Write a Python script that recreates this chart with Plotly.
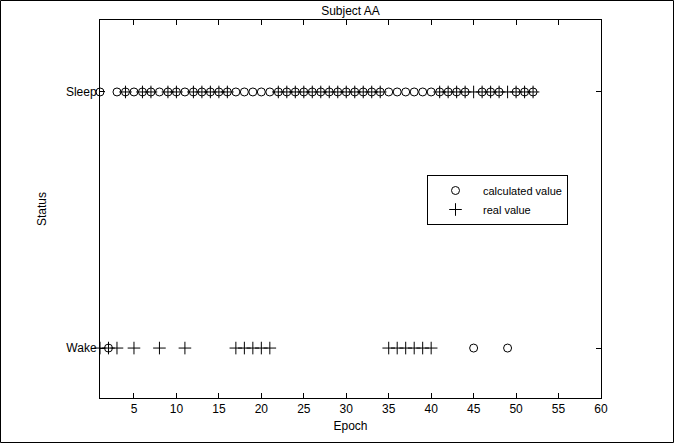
import plotly.graph_objects as go

# ---- data ----
epochs = list(range(1, 53))
# 1 = Sleep, 0 = Wake
calculated = [1, 0, 1, 1, 1, 1, 1, 1, 1, 1,
              1, 1, 1, 1, 1, 1, 1, 1, 1, 1,
              1, 1, 1, 1, 1, 1, 1, 1, 1, 1,
              1, 1, 1, 1, 1, 1, 1, 1, 1, 1,
              1, 1, 1, 1, 0, 1, 1, 1, 0, 1,
              1, 1]
real = [0, 0, 0, 1, 0, 1, 1, 0, 1, 1,
        0, 1, 1, 1, 1, 1, 0, 0, 0, 0,
        0, 1, 1, 1, 1, 1, 1, 1, 1, 1,
        1, 1, 1, 1, 0, 0, 0, 0, 0, 0,
        1, 1, 1, 1, 1, 1, 1, 1, 1, 1,
        1, 1]
status_vals = [0, 1]
status_labels = ["Wake", "Sleep"]
x_ticks = [5, 10, 15, 20, 25, 30, 35, 40, 45, 50, 55, 60]

FONT = "Liberation Sans, Arial, sans-serif"

fig = go.Figure()
fig.add_trace(go.Scatter(
    x=epochs, y=calculated, mode="markers", name="calculated value",
    marker=dict(symbol="circle-open", size=8, color="black",
                line=dict(width=1, color="black")),
    cliponaxis=False,
))
fig.add_trace(go.Scatter(
    x=epochs, y=real, mode="markers", name="real value",
    marker=dict(symbol="cross-thin-open", size=9, color="black",
                line=dict(width=1, color="black")),
    cliponaxis=False,
))

L, R, T, B = 100, 73, 20, 45
W, H = 674, 443
pw, ph = W - L - R, H - T - B

fig.update_layout(
    width=W, height=H,
    margin=dict(l=L, r=R, t=T, b=B, pad=0),
    paper_bgcolor="white", plot_bgcolor="white",
    font=dict(family=FONT, size=12, color="black"),
    title=dict(text="Subject AA", x=(L + pw / 2) / W, xanchor="center",
               y=1 - 11 / H, yanchor="middle", yref="container",
               font=dict(family=FONT, size=12, color="black")),
    showlegend=True,
    legend=dict(
        x=(427 - L) / pw, y=(H - B - 175) / ph, xanchor="left", yanchor="top",
        bgcolor="white", bordercolor="black", borderwidth=1,
        font=dict(family=FONT, size=11, color="black"),
        itemwidth=45, tracegroupgap=0,
    ),
    xaxis=dict(
        range=[1, 60], tickvals=x_ticks, ticks="inside", ticklen=5,
        tickcolor="black", showline=True, linecolor="black", linewidth=1,
        mirror="ticks", showgrid=False, zeroline=False,
        tickfont=dict(family=FONT, size=12, color="black"),
        title=dict(text="Epoch", standoff=6,
                   font=dict(family=FONT, size=12, color="black")),
    ),
    yaxis=dict(
        range=[-0.195, 1.281], tickvals=status_vals, ticktext=status_labels,
        ticks="inside", ticklen=5, tickcolor="black", showline=True,
        linecolor="black", linewidth=1, mirror="ticks", showgrid=False,
        zeroline=False,
        tickfont=dict(family=FONT, size=12, color="black"),
        title=dict(text="Status", standoff=16,
                   font=dict(family=FONT, size=12, color="black")),
    ),
    shapes=[dict(
        type="rect", xref="paper", yref="paper",
        x0=(0.5 - L) / pw, x1=(W - 0.5 - L) / pw,
        y0=(H - B - (H - 0.5)) / ph, y1=(H - B - 0.5) / ph,
        line=dict(color="black", width=1), fillcolor="rgba(0,0,0,0)",
        layer="above",
    )],
)

fig.write_html("out.html",
               config={"displayModeBar": False},
               post_script="document.body.style.margin='0';"
                           "document.body.style.overflow='hidden';")
